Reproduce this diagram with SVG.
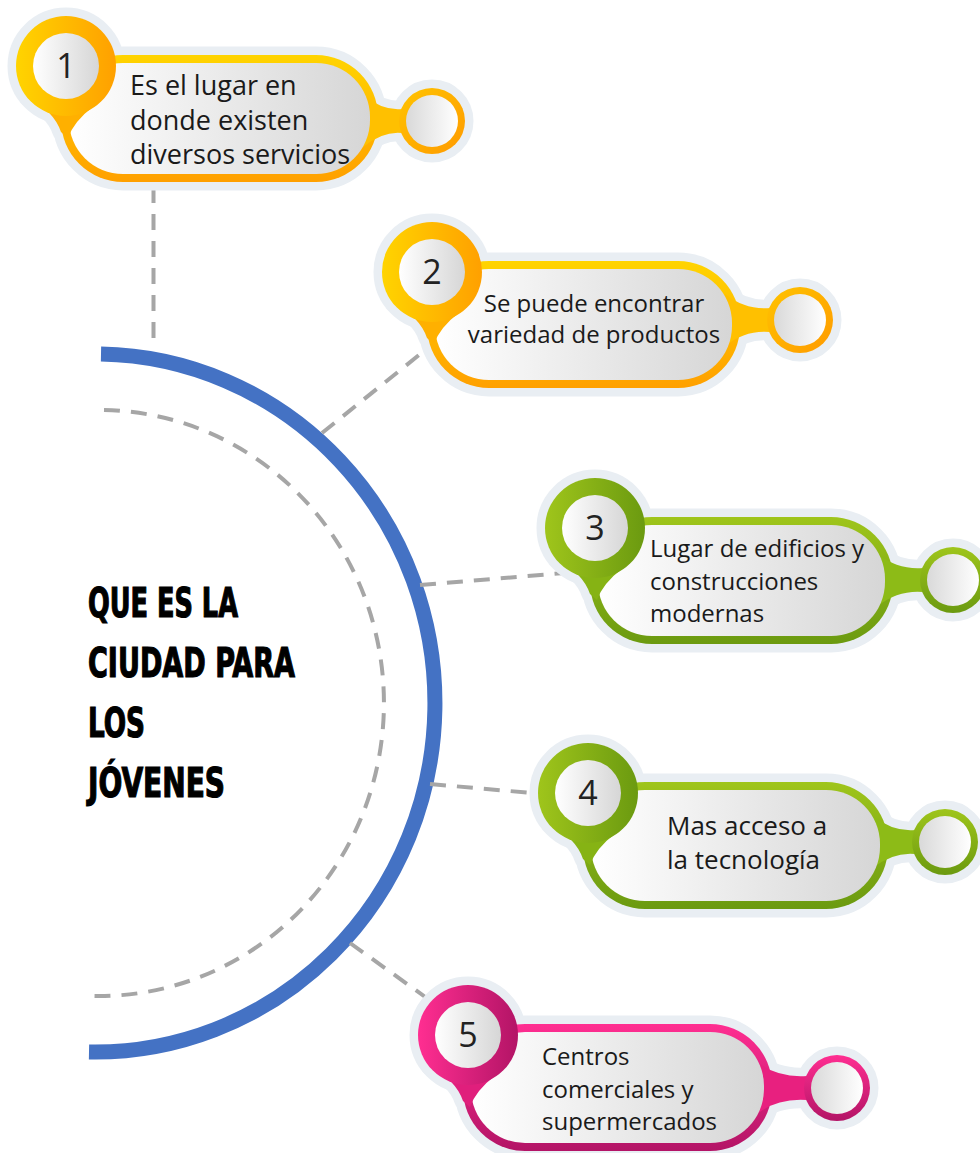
<svg xmlns="http://www.w3.org/2000/svg" width="980" height="1153" viewBox="0 0 980 1153">
<defs>
<linearGradient id="gYv" x1="0" y1="0" x2="0" y2="1"><stop offset="0" stop-color="#ffd400"/><stop offset="1" stop-color="#ffa000"/></linearGradient>
<linearGradient id="gYh" x1="0" y1="0" x2="1" y2="0"><stop offset="0" stop-color="#ffd400"/><stop offset="1" stop-color="#ffa000"/></linearGradient>
<linearGradient id="gYs" x1="0" y1="0" x2="1" y2="1"><stop offset="0" stop-color="#ffc400"/><stop offset="1" stop-color="#ff9a00"/></linearGradient>
<linearGradient id="gGv" x1="0" y1="0" x2="0" y2="1"><stop offset="0" stop-color="#9fc51b"/><stop offset="1" stop-color="#6b9a10"/></linearGradient>
<linearGradient id="gGh" x1="0" y1="0" x2="1" y2="0"><stop offset="0" stop-color="#9fc51b"/><stop offset="1" stop-color="#6b9a10"/></linearGradient>
<linearGradient id="gPv" x1="0" y1="0" x2="0" y2="1"><stop offset="0" stop-color="#ff2e91"/><stop offset="1" stop-color="#b31466"/></linearGradient>
<linearGradient id="gPh" x1="0" y1="0" x2="1" y2="0"><stop offset="0" stop-color="#ff2e91"/><stop offset="1" stop-color="#b31466"/></linearGradient>
<linearGradient id="gW" x1="0" y1="0" x2="1" y2="0"><stop offset="0" stop-color="#ffffff"/><stop offset="1" stop-color="#d6d6d6"/></linearGradient>
<linearGradient id="gWs" x1="0" y1="0" x2="1" y2="0"><stop offset="0" stop-color="#d9d9d9"/><stop offset="1" stop-color="#ffffff"/></linearGradient>
</defs>
<style>
.halo{fill:#e9eef3;stroke:#e9eef3;stroke-width:17;stroke-linejoin:round}
.txt{font-family:"Open Sans","Liberation Sans",sans-serif;font-size:24px;fill:#1a1a1a}
.t27{font-size:27px}
.t26{font-size:26px}
.num{font-family:"Open Sans","Liberation Sans",sans-serif;font-size:34px;fill:#222;text-anchor:middle}
.conn{stroke:#a6a6a6;stroke-width:4;stroke-dasharray:16 11;fill:none}
.title{font-family:"DejaVu Sans Condensed","DejaVu Sans",sans-serif;font-weight:bold;font-size:41px;fill:#000;stroke:#000;stroke-width:1.2}
</style>
<rect width="980" height="1153" fill="#ffffff"/>
<g id="arcs">
<path d="M101 354 A340 349 0 0 1 89 1052" fill="none" stroke="#4472c4" stroke-width="15"/>
<path d="M104 410 A285 293 0 0 1 94 996" class="conn"/>
</g>
<g id="connectors">
<path class="conn" d="M153.5 187 V340"/>
<path class="conn" d="M322 433 L424 351"/>
<path class="conn" d="M420 585 L577 572"/>
<path class="conn" d="M430 784 L532 793"/>
<path class="conn" d="M350 943 L428 999"/>
</g>
<g id="title" class="title">
<text x="88" y="617" textLength="150" lengthAdjust="spacingAndGlyphs">QUE ES LA</text>
<text x="88" y="677" textLength="207" lengthAdjust="spacingAndGlyphs">CIUDAD PARA</text>
<text x="88" y="737" textLength="57" lengthAdjust="spacingAndGlyphs">LOS</text>
<text x="88" y="797" textLength="137" lengthAdjust="spacingAndGlyphs">JÓVENES</text>
</g>

<g id="node1" transform="translate(66,66)">
<g class="halo"><circle r="50"/><path d="M-38 32 Q-12 45 -5 66 L2 72 Q8 55 28 40 Z"/><rect x="-5" y="-11" width="317" height="127" rx="62"/><path d="M297 29 Q317 45 336 43 L336 67 Q317 65 297 81 Z"/><circle cx="366" cy="55" r="33"/></g>
<rect x="-5" y="-11" width="317" height="127" rx="62" fill="url(#gYv)"/>
<path d="M297 29 Q317 45 336 43 L336 67 Q317 65 297 81 Z" fill="#ffc000"/>
<circle cx="366" cy="55" r="33" fill="url(#gYs)"/>
<rect x="3" y="-3" width="301" height="111" rx="54" fill="url(#gW)"/>
<circle cx="366" cy="55" r="26" fill="url(#gWs)"/>
<path d="M-38 32 Q-12 45 -5 66 L2 72 Q8 55 28 40 Z" fill="#ffb000"/>
<circle r="50" fill="url(#gYh)"/>
<circle r="33" fill="url(#gW)"/>
<text class="num" y="12">1</text>
<text class="txt t27"><tspan x="64" y="29">Es el lugar en</tspan><tspan x="64" y="63.5">donde existen</tspan><tspan x="64" y="98">diversos servicios</tspan></text>
</g>

<g id="node2" transform="translate(432,272)">
<g class="halo"><circle r="50"/><path d="M-38 32 Q-12 45 -5 66 L2 72 Q8 55 28 40 Z"/><rect x="-5" y="-11" width="313" height="127" rx="62"/><path d="M293 22 Q313 38 338 36 L338 60 Q313 58 293 74 Z"/><circle cx="368" cy="48" r="33"/></g>
<rect x="-5" y="-11" width="313" height="127" rx="62" fill="url(#gYv)"/>
<path d="M293 22 Q313 38 338 36 L338 60 Q313 58 293 74 Z" fill="#ffc000"/>
<circle cx="368" cy="48" r="33" fill="url(#gYs)"/>
<rect x="3" y="-3" width="297" height="111" rx="54" fill="url(#gW)"/>
<circle cx="368" cy="48" r="26" fill="url(#gWs)"/>
<path d="M-38 32 Q-12 45 -5 66 L2 72 Q8 55 28 40 Z" fill="#ffb000"/>
<circle r="50" fill="url(#gYh)"/>
<circle r="33" fill="url(#gW)"/>
<text class="num" y="12">2</text>
<text class="txt" text-anchor="middle"><tspan x="162" y="40">Se puede encontrar</tspan><tspan x="162" y="71">variedad de productos</tspan></text>
</g>

<g id="node3" transform="translate(595,528)">
<g class="halo"><circle r="50"/><path d="M-38 32 Q-12 45 -5 66 L2 72 Q8 55 28 40 Z"/><rect x="-5" y="-11" width="303" height="127" rx="62"/><path d="M283 26 Q303 42 328 40 L328 64 Q303 62 283 78 Z"/><circle cx="358" cy="52" r="33"/></g>
<rect x="-5" y="-11" width="303" height="127" rx="62" fill="url(#gGv)"/>
<path d="M283 26 Q303 42 328 40 L328 64 Q303 62 283 78 Z" fill="#8dbb17"/>
<circle cx="358" cy="52" r="33" fill="url(#gGv)"/>
<rect x="3" y="-3" width="287" height="111" rx="54" fill="url(#gW)"/>
<circle cx="358" cy="52" r="26" fill="url(#gWs)"/>
<path d="M-38 32 Q-12 45 -5 66 L2 72 Q8 55 28 40 Z" fill="#86b314"/>
<circle r="50" fill="url(#gGh)"/>
<circle r="33" fill="url(#gW)"/>
<text class="num" y="12">3</text>
<text class="txt"><tspan x="55" y="29">Lugar de edificios y</tspan><tspan x="55" y="62">construcciones</tspan><tspan x="55" y="94">modernas</tspan></text>
</g>

<g id="node4" transform="translate(588,793)">
<g class="halo"><circle r="50"/><path d="M-38 32 Q-12 45 -5 66 L2 72 Q8 55 28 40 Z"/><rect x="-5" y="-11" width="305" height="127" rx="62"/><path d="M285 23 Q305 39 327 37 L327 61 Q305 59 285 75 Z"/><circle cx="357" cy="49" r="33"/></g>
<rect x="-5" y="-11" width="305" height="127" rx="62" fill="url(#gGv)"/>
<path d="M285 23 Q305 39 327 37 L327 61 Q305 59 285 75 Z" fill="#8dbb17"/>
<circle cx="357" cy="49" r="33" fill="url(#gGv)"/>
<rect x="3" y="-3" width="289" height="111" rx="54" fill="url(#gW)"/>
<circle cx="357" cy="49" r="26" fill="url(#gWs)"/>
<path d="M-38 32 Q-12 45 -5 66 L2 72 Q8 55 28 40 Z" fill="#86b314"/>
<circle r="50" fill="url(#gGh)"/>
<circle r="33" fill="url(#gW)"/>
<text class="num" y="12">4</text>
<text class="txt t26"><tspan x="79" y="42">Mas acceso a</tspan><tspan x="79" y="76">la tecnología</tspan></text>
</g>

<g id="node5" transform="translate(468,1035)">
<g class="halo"><circle r="50"/><path d="M-38 32 Q-12 45 -5 66 L2 72 Q8 55 28 40 Z"/><rect x="-5" y="-11" width="309" height="127" rx="62"/><path d="M289 27 Q309 43 339 41 L339 65 Q309 63 289 79 Z"/><circle cx="369" cy="53" r="33"/></g>
<rect x="-5" y="-11" width="309" height="127" rx="62" fill="url(#gPv)"/>
<path d="M289 27 Q309 43 339 41 L339 65 Q309 63 289 79 Z" fill="#e8207f"/>
<circle cx="369" cy="53" r="33" fill="url(#gPv)"/>
<rect x="3" y="-3" width="293" height="111" rx="54" fill="url(#gW)"/>
<circle cx="369" cy="53" r="26" fill="url(#gWs)"/>
<path d="M-38 32 Q-12 45 -5 66 L2 72 Q8 55 28 40 Z" fill="#e01f7c"/>
<circle r="50" fill="url(#gPh)"/>
<circle r="33" fill="url(#gW)"/>
<text class="num" y="12">5</text>
<text class="txt"><tspan x="74" y="30">Centros</tspan><tspan x="74" y="63">comerciales y</tspan><tspan x="74" y="95">supermercados</tspan></text>
</g>
</svg>
